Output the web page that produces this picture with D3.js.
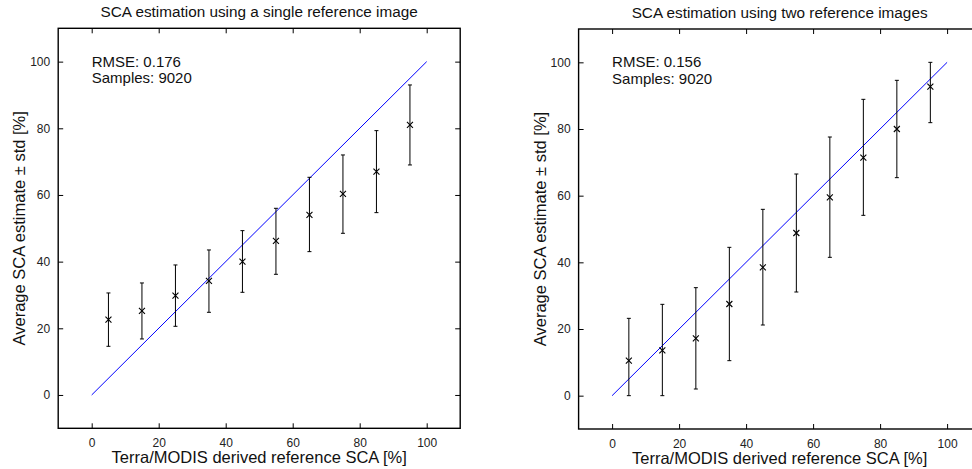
<!DOCTYPE html>
<html>
<head>
<meta charset="utf-8">
<script src="https://cdn.jsdelivr.net/npm/d3@7"></script>
<style>
  body { margin: 0; background: #fff; }
  svg { display: block; font-family: "Liberation Sans", Arial, sans-serif; }
</style>
</head>
<body>
<svg id="chart" width="972" height="469"></svg>
<script>
// reference SCA bins (x positions)
var refSCA = [5, 15, 25, 35, 45, 55, 65, 75, 85, 95];

// single reference image
var singleMean  = [22.6, 25.2, 29.8, 34.2, 40.0, 46.2, 54.0, 60.3, 67.0, 81.0];
var singleLower = [14.6, 16.8, 20.6, 24.8, 30.8, 36.2, 43.0, 48.5, 54.7, 69.0];
var singleUpper = [30.6, 33.6, 39.0, 43.5, 49.3, 56.0, 65.3, 72.0, 79.3, 93.0];

// two reference images
var twoMean  = [10.5, 13.6, 17.2, 27.5, 38.5, 48.8, 59.5, 71.4, 80.0, 92.7];
var twoLower = [0.0, 0.0, 2.0, 10.5, 21.2, 31.1, 41.5, 54.1, 65.4, 81.9];
var twoUpper = [23.2, 27.4, 32.4, 44.5, 55.9, 66.5, 77.6, 88.9, 94.6, 100.0];

var xTicks = [0, 20, 40, 60, 80, 100];
var yTicks = [0, 20, 40, 60, 80, 100];

var titles = ["SCA estimation using a single reference image", "SCA estimation using two reference images"];
var statsText = [["RMSE: 0.176", "Samples: 9020"], ["RMSE: 0.156", "Samples: 9020"]];

var panels = [
  {left: 58.2, top: 28.3, mean: singleMean, lo: singleLower, hi: singleUpper},
  {left: 578.6, top: 29, mean: twoMean, lo: twoLower, hi: twoUpper}
];

var w = 402, h = 400;
var svg = d3.select("#chart");

panels.forEach(function(p, k) {
  var g = svg.append("g").attr("transform", "translate(" + p.left + "," + p.top + ")");

  var x = d3.scaleLinear().domain([-10, 110]).range([0, w]);
  var y = d3.scaleLinear().domain([-10, 110]).range([h, 0]);

  // ticks inside, all four sides
  g.append("g").attr("transform", "translate(0," + h + ")")
    .call(d3.axisBottom(x).tickValues(xTicks).tickSizeInner(-5).tickSizeOuter(0).tickPadding(10))
    .call(function(a) { a.select(".domain").remove(); });
  g.append("g")
    .call(d3.axisTop(x).tickValues(xTicks).tickSizeInner(-5).tickSizeOuter(0).tickFormat(""))
    .call(function(a) { a.select(".domain").remove(); });
  g.append("g")
    .call(d3.axisLeft(y).tickValues(yTicks).tickSizeInner(-5).tickSizeOuter(0).tickPadding(8))
    .call(function(a) { a.select(".domain").remove(); });
  g.append("g").attr("transform", "translate(" + w + ",0)")
    .call(d3.axisRight(y).tickValues(yTicks).tickSizeInner(-5).tickSizeOuter(0).tickFormat(""))
    .call(function(a) { a.select(".domain").remove(); });

  g.selectAll(".tick text").attr("font-size", 12).attr("fill", "#222").attr("font-family", "Liberation Sans, Arial, sans-serif");
  g.selectAll(".tick line").attr("stroke", "#000");

  // 1:1 line
  g.append("line")
    .attr("x1", x(0)).attr("y1", y(0))
    .attr("x2", x(100)).attr("y2", y(100))
    .attr("stroke", "#0000ff").attr("stroke-width", 1);

  // error bars
  var bars = g.selectAll(".err").data(refSCA).enter().append("g");
  bars.append("line")
    .attr("x1", function(d) { return x(d); }).attr("x2", function(d) { return x(d); })
    .attr("y1", function(d, i) { return y(p.lo[i]); })
    .attr("y2", function(d, i) { return y(p.hi[i]); })
    .attr("stroke", "#000").attr("stroke-width", 1);
  bars.append("line")
    .attr("x1", function(d) { return x(d) - 2; }).attr("x2", function(d) { return x(d) + 2; })
    .attr("y1", function(d, i) { return y(p.lo[i]); })
    .attr("y2", function(d, i) { return y(p.lo[i]); })
    .attr("stroke", "#000").attr("stroke-width", 1);
  bars.append("line")
    .attr("x1", function(d) { return x(d) - 2; }).attr("x2", function(d) { return x(d) + 2; })
    .attr("y1", function(d, i) { return y(p.hi[i]); })
    .attr("y2", function(d, i) { return y(p.hi[i]); })
    .attr("stroke", "#000").attr("stroke-width", 1);
  // x markers
  bars.append("path")
    .attr("d", function(d, i) {
      var cx = x(d), cy = y(p.mean[i]), s = 3;
      return "M" + (cx - s) + "," + (cy - s) + "L" + (cx + s) + "," + (cy + s) +
             "M" + (cx - s) + "," + (cy + s) + "L" + (cx + s) + "," + (cy - s);
    })
    .attr("stroke", "#000").attr("stroke-width", 1.1).attr("fill", "none");

  // box
  g.append("rect").attr("width", w).attr("height", h)
    .attr("fill", "none").attr("stroke", "#000").attr("stroke-width", 1.4);

  // stats text
  g.append("text").attr("x", x(0)).attr("y", y(100) + 5)
    .attr("font-size", 15).attr("fill", "#111")
    .selectAll("tspan").data(statsText[k]).enter().append("tspan")
    .attr("x", x(0)).attr("dy", function(d, i) { return i === 0 ? 0 : 16.5; })
    .text(function(d) { return d; });

  // title
  g.append("text").attr("x", w / 2).attr("y", -11)
    .attr("text-anchor", "middle").attr("font-size", 15.3).attr("fill", "#111")
    .text(titles[k]);

  // axis labels
  g.append("text").attr("x", w / 2).attr("y", h + 35)
    .attr("text-anchor", "middle").attr("font-size", 16.5).attr("fill", "#111")
    .text("Terra/MODIS derived reference SCA [%]");
  g.append("text")
    .attr("transform", "translate(-33," + (h / 2) + ") rotate(-90)")
    .attr("text-anchor", "middle").attr("font-size", 16.5).attr("fill", "#111")
    .text("Average SCA estimate \u00b1 std [%]");
});
</script>
</body>
</html>
